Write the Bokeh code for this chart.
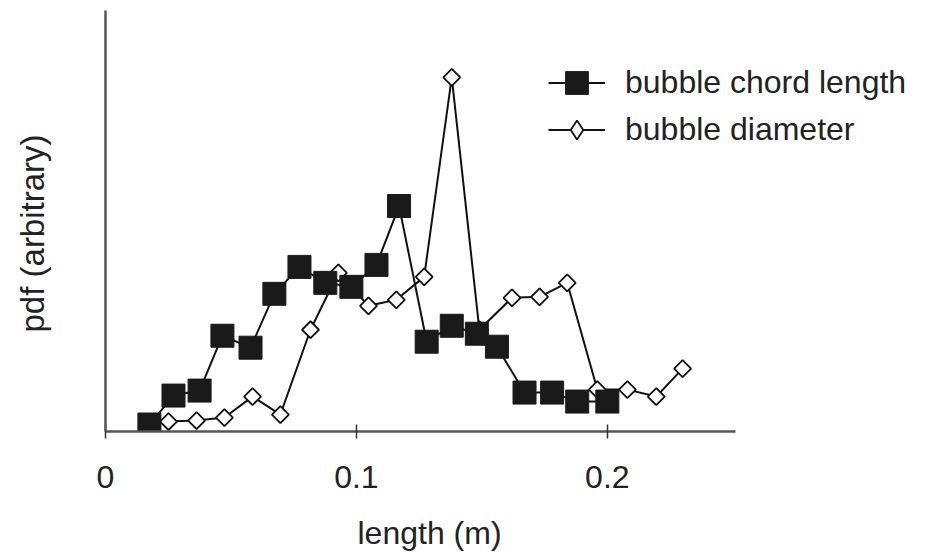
from bokeh.plotting import figure
from bokeh.models import Range1d, FixedTicker, Legend, LegendItem, Title
from bokeh.embed import file_html
from bokeh.resources import INLINE
import numpy as np

# bubble chord length (filled squares)
chord_x = [0.0175, 0.0271, 0.0375, 0.0466, 0.0578, 0.0673, 0.0773, 0.0876, 0.098, 0.108,
           0.117, 0.128, 0.138, 0.148, 0.156, 0.167, 0.178, 0.188, 0.200]
chord_y = [0.07, 0.36, 0.41, 0.96, 0.84, 1.38, 1.65, 1.49, 1.45, 1.67,
           2.26, 0.90, 1.06, 0.98, 0.85, 0.39, 0.39, 0.30, 0.30]

# bubble diameter (open diamonds)
diam_x = [0.0251, 0.0363, 0.0474, 0.0586, 0.0697, 0.0817, 0.0928, 0.1048, 0.1159, 0.127,
          0.138, 0.149, 0.162, 0.173, 0.184, 0.196, 0.208, 0.2195, 0.230]
diam_y = [0.10, 0.11, 0.14, 0.35, 0.17, 1.02, 1.59, 1.26, 1.32, 1.55,
          3.55, 1.02, 1.34, 1.35, 1.49, 0.42, 0.42, 0.35, 0.63]

x_ticks = [0, 0.1, 0.2]
x_tick_labels = {0: "0", 0.1: "0.1", 0.2: "0.2"}
x_axis_end = 0.251

FONT = "Liberation Sans"
TXT = "#222222"
INK = "#111111"
FS = "32px"

p = figure(width=928, height=552, output_backend="svg", toolbar_location=None,
           x_range=Range1d(0, 0.328), y_range=Range1d(0, 4.22),
           min_border_left=105, min_border_right=0, min_border_top=10, min_border_bottom=120)
p.outline_line_color = None
p.xgrid.visible = False
p.ygrid.visible = False
p.background_fill_color = "white"

# diameter series first (under)
r_dl = p.line(diam_x, diam_y, line_color=INK, line_width=2)
# plain diamond underlay (used for the legend glyph; hidden under the rotated squares)
r_dproxy = p.scatter(diam_x, diam_y, marker="diamond", size=16,
                     fill_color="white", line_color=INK, line_width=1.8)
r_ds = p.scatter(diam_x, diam_y, marker="square", angle=np.pi / 4, size=12,
                 fill_color="white", line_color=INK, line_width=1.8)

# chord series on top
r_cl = p.line(chord_x, chord_y, line_color=INK, line_width=2)
r_cs = p.scatter(chord_x, chord_y, marker="square", size=23,
                 fill_color="#1a1a1a", line_color="#1a1a1a", line_width=1)

# axes
xa = p.xaxis[0]
xa.bounds = (0, x_axis_end)
xa.ticker = FixedTicker(ticks=x_ticks)
xa.major_label_overrides = x_tick_labels
xa.minor_tick_line_color = None
xa.major_tick_in = 7
xa.major_tick_out = 7
xa.major_tick_line_width = 1.5
xa.major_tick_line_color = "#333333"
xa.axis_line_color = "#555555"
xa.axis_line_width = 2.5
xa.major_label_standoff = 27
xa.major_label_text_font = FONT
xa.major_label_text_font_size = FS
xa.major_label_text_color = TXT
# invisible spacer label that pushes the "length (m)" title down
xa.axis_label = " "
xa.axis_label_text_font_size = "1px"
xa.axis_label_standoff = 16

ya = p.yaxis[0]
ya.ticker = FixedTicker(ticks=[0])
ya.major_label_overrides = {0: ""}
ya.major_label_standoff = 0
ya.minor_tick_line_color = None
ya.major_tick_line_color = None
ya.major_tick_in = 0
ya.major_tick_out = 50
ya.axis_line_color = "#555555"
ya.axis_line_width = 2.5

x_title = Title(text="length (m)", align="left", offset=252, standoff=4,
                text_line_height=1.5,
                text_font=FONT, text_font_size=FS, text_font_style="normal", text_color=TXT)
p.add_layout(x_title, "below")
y_title = Title(text="pdf (arbitrary)", align="left", offset=99, standoff=10,
                text_font=FONT, text_font_size="33px", text_font_style="normal", text_color=TXT)
p.add_layout(y_title, "left")

common = dict(spacing=0, padding=0, margin=0, label_standoff=20,
              border_line_color=None, background_fill_alpha=0,
              label_text_font=FONT, label_text_font_size=FS, label_text_color=TXT)
leg1 = Legend(items=[LegendItem(label="bubble chord length", renderers=[r_cl, r_cs])],
              location=(443, 320), glyph_width=57, glyph_height=57, label_height=57, **common)
leg2 = Legend(items=[LegendItem(label="bubble diameter", renderers=[r_dl, r_dproxy])],
              location=(443, 278), glyph_width=57, glyph_height=47, label_height=47, **common)
p.add_layout(leg1)
p.add_layout(leg2)

open("out.html", "w").write(file_html(p, INLINE))
